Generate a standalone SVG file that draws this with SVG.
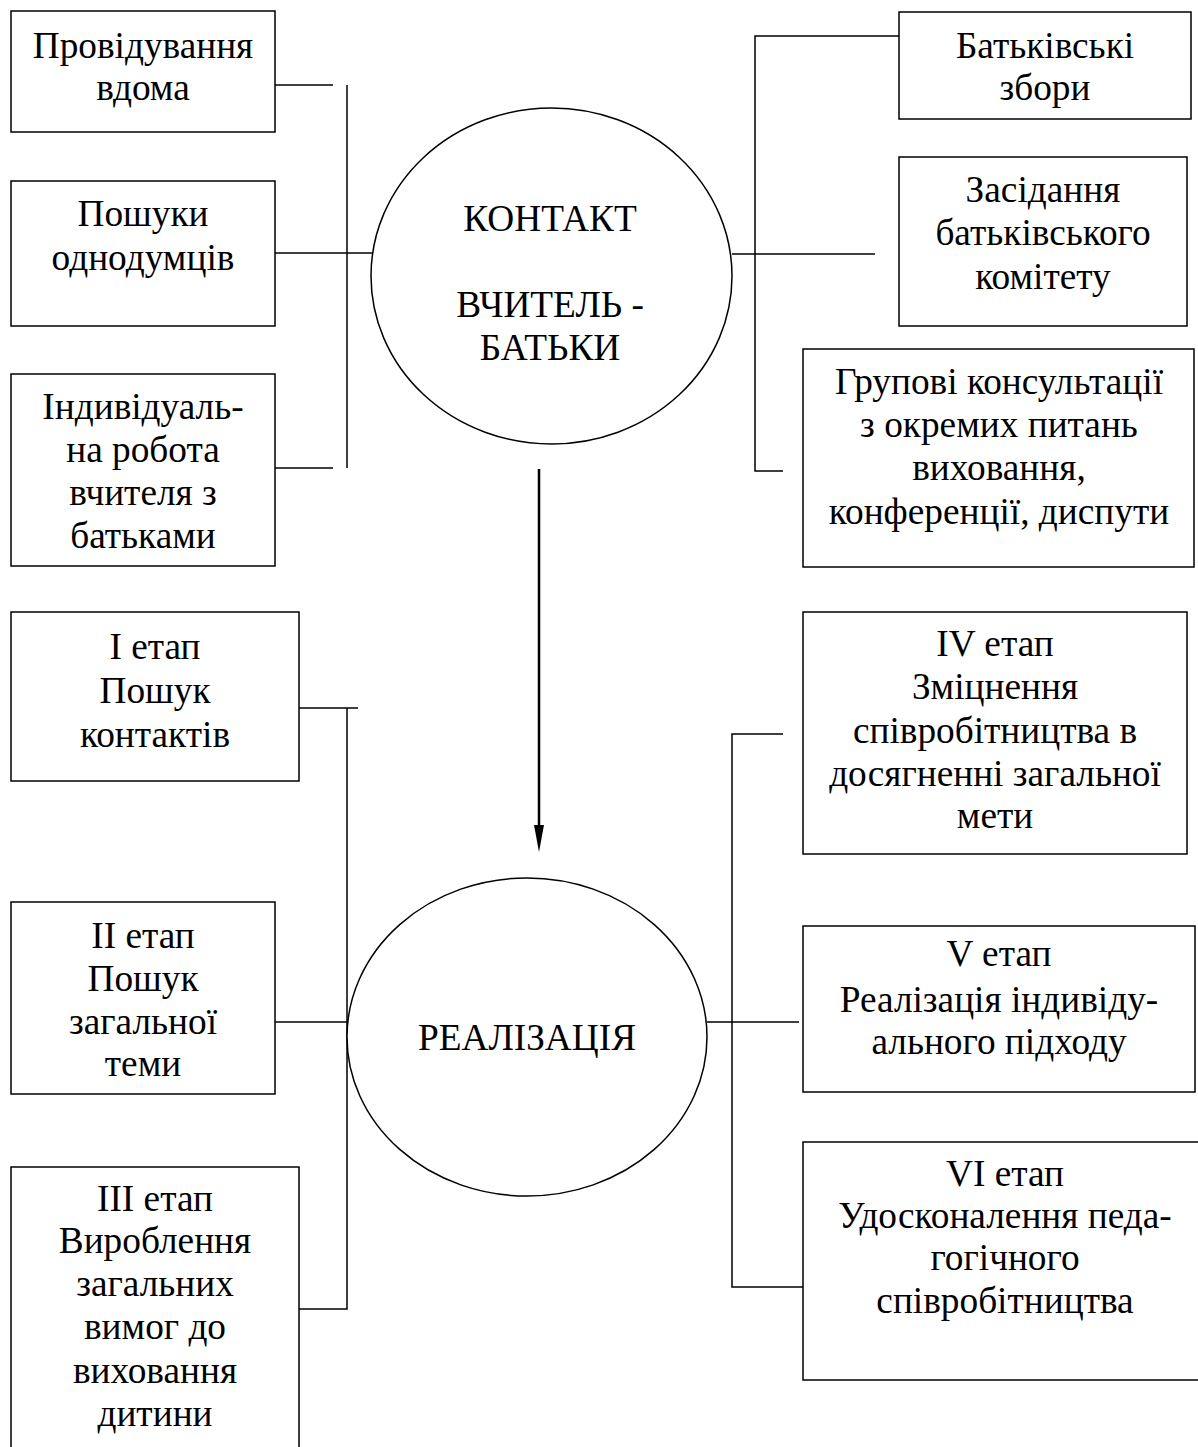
<svg xmlns="http://www.w3.org/2000/svg" width="1198" height="1447" viewBox="0 0 1198 1447">
<style>
.box{fill:#fff;stroke:#000;stroke-width:1.5}
.ell{fill:#fff;stroke:#000;stroke-width:1.5}
.t{font-family:"Liberation Serif","Times New Roman",serif;font-size:37.3px;fill:#000;text-anchor:middle}
.c{fill:none;stroke:#000;stroke-width:1.5}
</style>
<rect width="1198" height="1447" fill="#fff"/>
<g id="connectors">
<path class="c" d="M275,85 H333"/>
<path class="c" d="M275,253 H376"/>
<path class="c" d="M275,468 H333"/>
<path class="c" d="M347,85 V468"/>
<path class="c" d="M899,36 H755 V471 H783"/>
<path class="c" d="M732,254 H875"/>
<path class="c" d="M299,708 H358"/>
<path class="c" d="M347,708 V1309 H299"/>
<path class="c" d="M275,1022 H348"/>
<path class="c" d="M783,734 H732 V1287 H803"/>
<path class="c" d="M707,1022 H799"/>
<path fill="none" stroke="#000" stroke-width="2.5" d="M539,469 V826"/>
<path d="M534,825 L544,825 L539,852 Z" fill="#000"/>
</g>
<g id="n1"><rect class="box" x="11" y="11" width="264" height="121"/>
<text class="t" x="143" y="58">Провідування</text><text class="t" x="143" y="100">вдома</text></g>
<g id="n2"><rect class="box" x="11" y="181" width="264" height="145"/>
<text class="t" x="143" y="226">Пошуки</text><text class="t" x="143" y="270">однодумців</text></g>
<g id="n3"><rect class="box" x="11" y="374" width="264" height="192"/>
<text class="t" x="143" y="419">Індивідуаль-</text><text class="t" x="143" y="462">на робота</text><text class="t" x="143" y="505">вчителя з</text><text class="t" x="143" y="548">батьками</text></g>
<g id="n4"><ellipse class="ell" cx="551.5" cy="276" rx="180.5" ry="168"/>
<text class="t" x="550" y="231">КОНТАКТ</text><text class="t" x="550" y="317">ВЧИТЕЛЬ -</text><text class="t" x="550" y="360">БАТЬКИ</text></g>
<g id="n5"><rect class="box" x="899" y="12" width="292" height="107"/>
<text class="t" x="1045" y="58">Батьківські</text><text class="t" x="1045" y="100">збори</text></g>
<g id="n6"><rect class="box" x="899" y="157" width="288" height="169"/>
<text class="t" x="1043" y="202">Засідання</text><text class="t" x="1043" y="245">батьківського</text><text class="t" x="1043" y="289">комітету</text></g>
<g id="n7"><rect class="box" x="803" y="349" width="391" height="218"/>
<text class="t" x="999" y="394">Групові консультації</text><text class="t" x="999" y="437">з окремих питань</text><text class="t" x="999" y="480">виховання,</text><text class="t" x="999" y="524">конференції, диспути</text></g>
<g id="n8"><rect class="box" x="11" y="612" width="288" height="169"/>
<text class="t" x="155" y="659">І етап</text><text class="t" x="155" y="703">Пошук</text><text class="t" x="155" y="747">контактів</text></g>
<g id="n9"><rect class="box" x="11" y="902" width="264" height="192"/>
<text class="t" x="143" y="948">ІІ етап</text><text class="t" x="143" y="991">Пошук</text><text class="t" x="143" y="1034">загальної</text><text class="t" x="143" y="1076">теми</text></g>
<g id="n10"><rect class="box" x="11" y="1167" width="288" height="300"/>
<text class="t" x="155" y="1211">ІІІ етап</text><text class="t" x="155" y="1253">Вироблення</text><text class="t" x="155" y="1296">загальних</text><text class="t" x="155" y="1339">вимог до</text><text class="t" x="155" y="1383">виховання</text><text class="t" x="155" y="1426">дитини</text></g>
<g id="n11"><ellipse class="ell" cx="527" cy="1037" rx="180" ry="159"/>
<text class="t" x="527" y="1050">РЕАЛІЗАЦІЯ</text></g>
<g id="n12"><rect class="box" x="803" y="612" width="384" height="242"/>
<text class="t" x="995" y="656">IV етап</text><text class="t" x="995" y="699">Зміцнення</text><text class="t" x="995" y="743">співробітництва в</text><text class="t" x="995" y="786">досягненні загальної</text><text class="t" x="995" y="828">мети</text></g>
<g id="n13"><rect class="box" x="803" y="926" width="392" height="166"/>
<text class="t" x="999" y="966">V етап</text><text class="t" x="999" y="1012">Реалізація індивіду-</text><text class="t" x="999" y="1054">ального підходу</text></g>
<g id="n14"><rect class="box" x="803" y="1142" width="420" height="238"/>
<text class="t" x="1005" y="1186">VI етап</text><text class="t" x="1005" y="1228">Удосконалення педа-</text><text class="t" x="1005" y="1270">гогічного</text><text class="t" x="1005" y="1313">співробітництва</text></g>
</svg>
